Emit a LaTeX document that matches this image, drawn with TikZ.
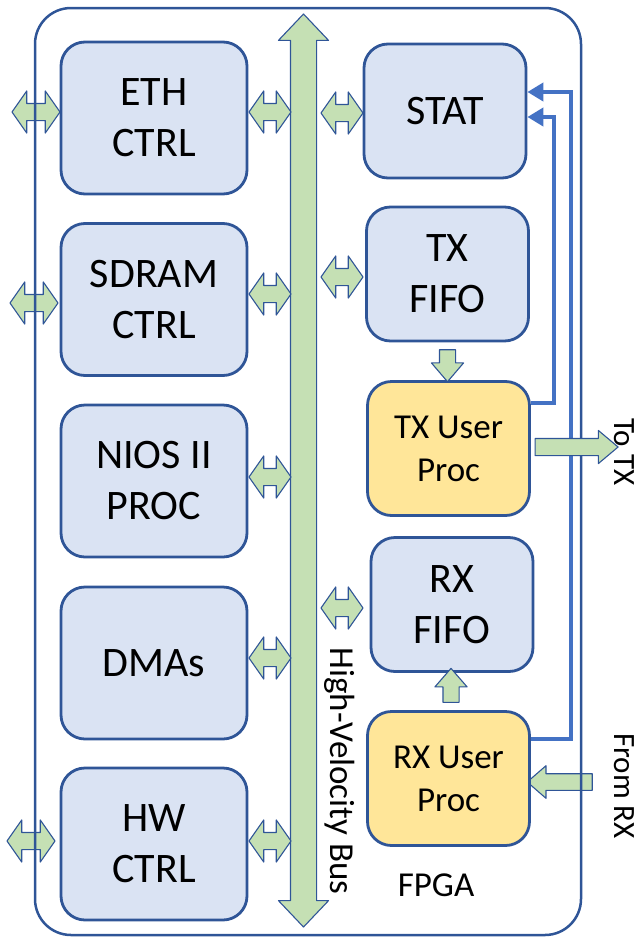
\documentclass[tikz,border=0pt]{standalone}
\usepackage{fontspec}
\setmainfont{Carlito}
\usetikzlibrary{shapes.arrows,arrows.meta}
\definecolor{edge}{RGB}{47,85,151}
\definecolor{blkfill}{RGB}{218,227,243}
\definecolor{usrfill}{RGB}{255,230,153}
\definecolor{busgreen}{RGB}{197,224,180}
\definecolor{sigblue}{RGB}{68,114,196}
\begin{document}
\begin{tikzpicture}[x=1pt,y=-1pt,line join=round,
	blk/.style={draw=edge,fill=blkfill,line width=2.8pt,rounded corners=24pt,inner sep=0pt,align=center,font=\fontsize{42}{51}\selectfont},
	lblk/.style={blk,minimum width=186pt,minimum height=152pt},
	rblk/.style={blk,minimum width=162pt,minimum height=134pt},
	usr/.style={rblk,fill=usrfill,font=\fontsize{35}{43}\selectfont},
	biarrow/.style={double arrow,draw=edge,fill=busgreen,line width=1.1pt,inner xsep=0pt,inner ysep=8pt,double arrow head extend=12.5pt,double arrow tip angle=110,minimum height=#1},
	fatarrow/.style={single arrow,draw=edge,fill=busgreen,line width=1.1pt,inner xsep=0pt,inner ysep=7.75pt,single arrow head extend=8pt,single arrow tip angle=82,minimum height=#1},
	sig/.style={draw=sigblue,line width=4.5pt,line join=miter,-{Triangle[length=16pt,width=18pt]}},
	lbl/.style={font=\fontsize{35}{43}\selectfont},
	side/.style={font=\fontsize{31}{38}\selectfont,inner sep=0pt,rotate=-90}]
\useasboundingbox (0,0) rectangle (636,940);
	\node[biarrow=48pt] (ethio) at (36,112) {};
	\node[biarrow=48pt] (sdramio) at (34,303) {};
	\node[biarrow=48pt] (hwio) at (31,841) {};
	\node[fatarrow=65pt,rotate=180] (rxin) at (564.5,782) {};
	\node[draw=edge,line width=2.5pt,rounded corners=36pt,minimum width=546pt,minimum height=927pt] (fpga) at (308,471.5) {};

	\node[lblk] (eth) at (154,118) {ETH\\CTRL};
	\node[lblk] (sdram) at (154,299.5) {SDRAM\\CTRL};
	\node[lblk] (nios) at (154,481) {NIOS II\\PROC};
	\node[lblk] (dmas) at (154,663) {DMAs};
	\node[lblk] (hw) at (154,844) {HW\\CTRL};

	\node[rblk] (stat) at (445,111) {STAT};
	\node[rblk] (txfifo) at (447.5,274) {TX\\FIFO};
	\node[usr] (txproc) at (448.5,448.5) {TX User\\Proc};
	\node[rblk] (rxfifo) at (452,604.5) {RX\\FIFO};
	\node[usr] (rxproc) at (448.5,778.5) {RX User\\Proc};

	\node[biarrow=913pt,rotate=90,inner ysep=12.5pt,double arrow head extend=12pt,double arrow tip angle=87] (bus) at (303.5,470.5) {};
	\foreach \n/\y in {eth/112,sdram/294,nios/477,dmas/658,hw/841}
		\node[biarrow=42pt] (\n bus) at (270,\y) {};
	\foreach \n/\y in {stat/113,txfifo/277,rxfifo/608}
		\node[biarrow=42pt] (\n bus) at (342,\y) {};
	\node[fatarrow=32pt,rotate=-90,inner ysep=7.5pt,single arrow tip angle=81] (txdn) at (447.5,361) {};
	\node[fatarrow=34pt,rotate=90,inner ysep=7.5pt] (rxup) at (451,690) {};

	\draw[sig] ([yshift=45.5pt]txproc.east) -- ++(23,0) |- ([yshift=-6pt]stat.east);
	\draw[sig] ([yshift=39.5pt]rxproc.east) -- ++(40,0) |- ([yshift=19pt]stat.east);
	\node[fatarrow=83pt,inner ysep=8pt,single arrow tip angle=80] (txout) at (571.5,447) {};

	\node[lbl,rotate=-90] (buslbl) at (340,771) {High-Velocity Bus};
	\node[lbl] (fpgalbl) at (436,885) {FPGA};
	\node[side] (totx) at (624,452) {To TX};
	\node[side] (fromrx) at (624,786) {From RX};
\end{tikzpicture}
\end{document}
